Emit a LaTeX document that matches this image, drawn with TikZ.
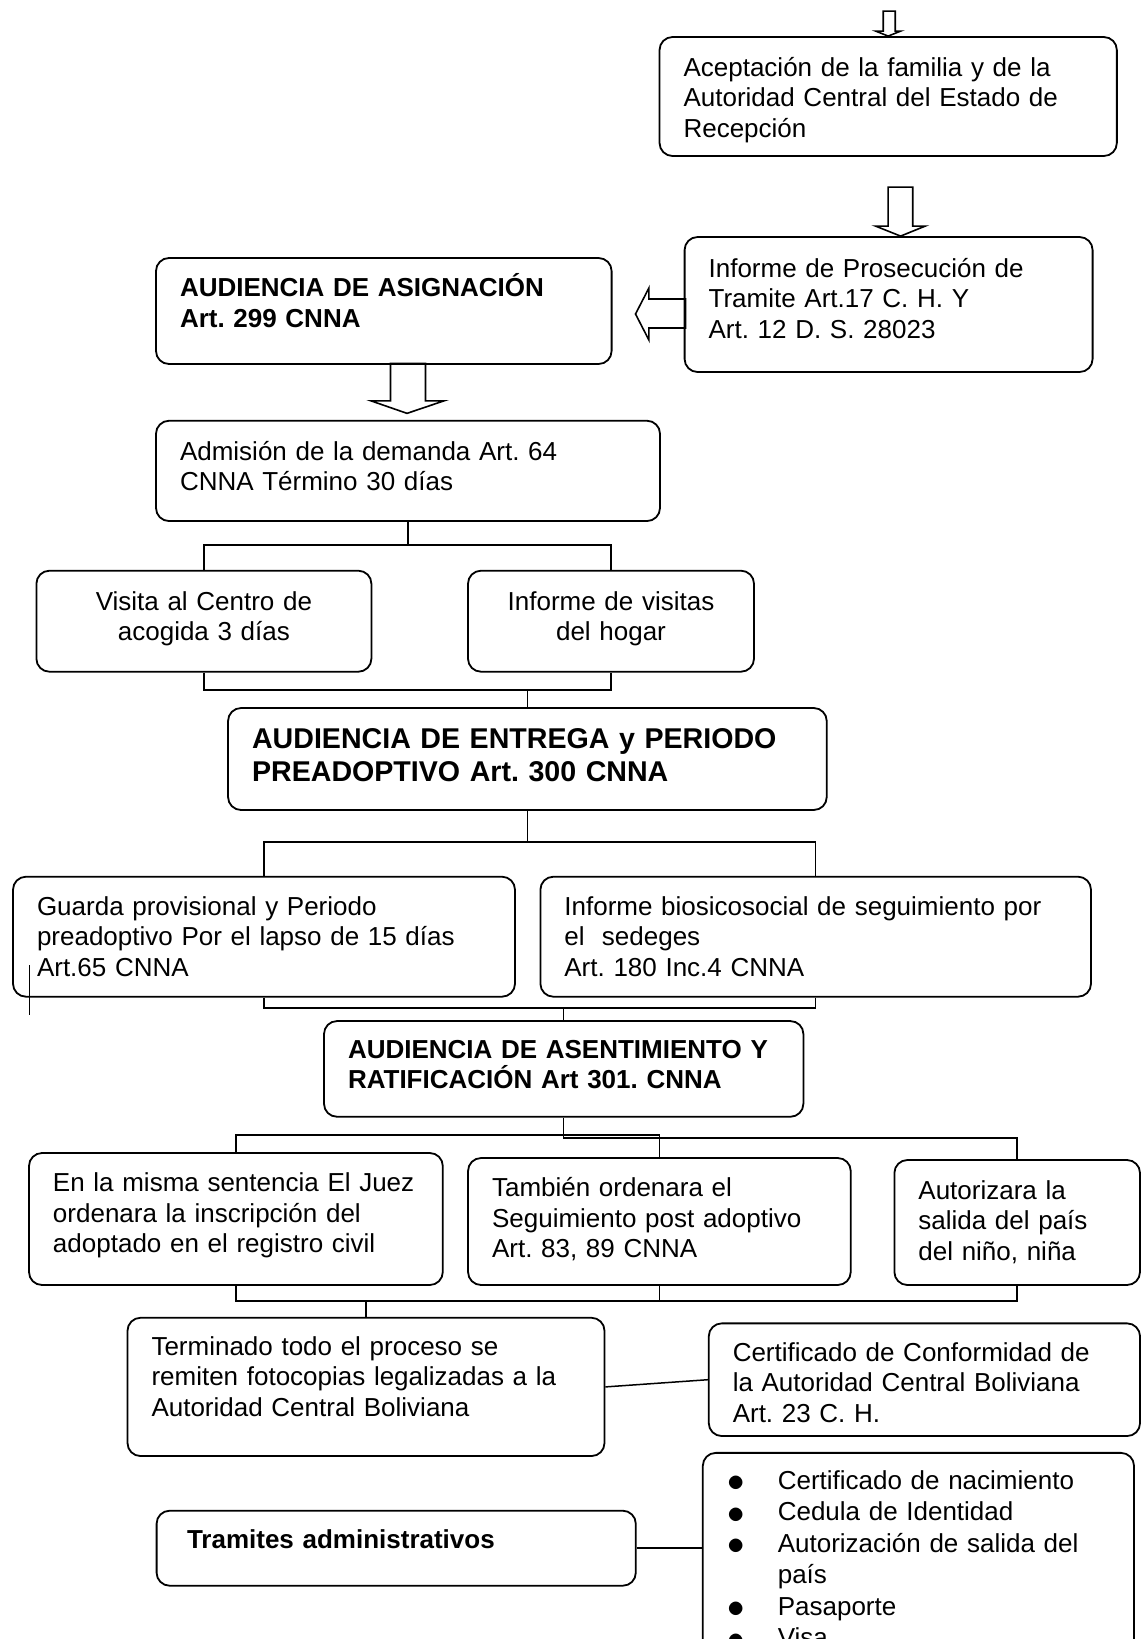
\documentclass[tikz,border=0pt]{standalone}
\usepackage{fontspec}
\setmainfont{Liberation Sans}
\usepackage{tikz}
\frenchspacing

\begin{document}
\begin{tikzpicture}[x=0.5pt,y=-0.5pt,line width=0.75pt,
    box/.style={draw,line width=0.9pt,rounded corners=6.5pt,align=left,inner xsep=12pt,inner ysep=0pt,font=\fontsize{13}{15.3}\selectfont},
    boldbox/.style={box,font=\fontsize{13}{15.3}\selectfont\bfseries},
    barrow/.style={draw,line width=0.8pt}]
        \useasboundingbox (0,0) rectangle (1142,1639);
        \clip (0,0) rectangle (1142,1639);
        \node[box] (acept) at (888.2,96.5)[text width=204.65pt,text height=19.5pt,text depth=40pt] {Aceptación de la familia y de la\\Autoridad Central del Estado de\\Recepción};
        \node[box] (prosec) at (888.6,304.5)[text width=180pt,text height=20pt,text depth=47.5pt] {Informe de Prosecución de\\Tramite Art.17 C. H. Y\\Art. 12 D. S. 28023};
        \node[boldbox] (asign) at (383.8,311)[text width=203.8pt,text height=19.35pt,text depth=33.65pt] {AUDIENCIA DE ASIGNACIÓN\\Art. 299 CNNA};
        \node[box] (admis) at (408,470.9)[text width=228pt,text height=19.65pt,text depth=30.5pt] {Admisión de la demanda Art. 64\\CNNA Término 30 días};
        \node[box,align=center] (visita) at (203.9,621.2)[text width=143.5pt,text height=19.65pt,text depth=30.85pt] {Visita al Centro de\\acogida 3 días};
        \node[box,align=center] (hogar) at (611,621.2)[text width=119pt,text height=19.65pt,text depth=30.85pt] {Informe de visitas\\del hogar};
        \node[boldbox,font=\fontsize{14.3}{16.85}\selectfont\bfseries] (entrega) at (527.4,759)[text width=275.35pt,text height=20pt,text depth=31pt] {AUDIENCIA DE ENTREGA y PERIODO\\PREADOPTIVO Art. 300 CNNA};
        \node[box] (guarda) at (264,936.7)[text width=227pt,text height=19.15pt,text depth=40.85pt] {Guarda provisional y Periodo\\preadoptivo Por el lapso de 15 días\\Art.65 CNNA};
        \node[box] (biosic) at (815.7,936.7)[text width=251.3pt,text height=19.15pt,text depth=40.85pt] {Informe biosicosocial de seguimiento por\\el\ \ sedeges\\Art. 180 Inc.4 CNNA};
        \node[boldbox] (asent) at (563.7,1068.9)[text width=215.7pt,text height=18.5pt,text depth=29.35pt] {AUDIENCIA DE ASENTIMIENTO Y\\RATIFICACIÓN Art 301. CNNA};
        \node[box] (inscrip) at (235.9,1219)[text width=182.9pt,text height=19.35pt,text depth=46.65pt] {En la misma sentencia El Juez\\ordenara la inscripción del\\adoptado en el registro civil};
        \node[box] (seguim) at (659.4,1221.5)[text width=167.35pt,text height=19.35pt,text depth=44.15pt] {También ordenara el\\Seguimiento post adoptivo\\Art. 83, 89 CNNA};
        \node[box] (salida) at (1017.2,1222.5)[text width=98.8pt,text height=19.5pt,text depth=43pt] {Autorizara la\\salida del país\\del niño, niña};
        \node[box] (termin) at (366,1386.9)[text width=214.5pt,text height=18.65pt,text depth=50.5pt] {Terminado todo el proceso se\\remiten fotocopias legalizadas a la\\Autoridad Central Boliviana};
        \node[box] (certif) at (924.4,1379.7)[text width=191.65pt,text height=18.85pt,text depth=37.5pt] {Certificado de Conformidad de\\la Autoridad Central Boliviana\\Art. 23 C. H.};
        \node[boldbox,inner xsep=15.2pt] (tramit) at (396.2,1548.2)[text width=209.2pt,text height=18.65pt,text depth=18.85pt] {Tramites administrativos};
        \node[box,inner xsep=12.3pt,font=\fontsize{13}{15.75}\selectfont] (docs) at (918.4,1561)[text width=191pt,text height=18.15pt,text depth=90pt] {\begin{tabular}[t]{@{}p{25.2pt}@{}l@{}}
            \raisebox{-1.2pt}{\scalebox{1.45}{$\bullet$}} & Certificado de nacimiento\\
            \raisebox{-1.2pt}{\scalebox{1.45}{$\bullet$}} & Cedula de Identidad\\
            \raisebox{-1.2pt}{\scalebox{1.45}{$\bullet$}} & Autorización de salida del\\
                      & país\\
            \raisebox{-1.2pt}{\scalebox{1.45}{$\bullet$}} & Pasaporte\\
            \raisebox{-1.2pt}{\scalebox{1.45}{$\bullet$}} & Visa
        \end{tabular}};
        \draw[barrow] (acept.north) -- ++(-12.5,-5) -- ++(7.5,0) -- ++(0,-20) -- ++(12,0) -- ++(0,20) -- ++(5.5,0) -- cycle;
        \draw[barrow] (prosec.north) ++(12,0) -- ++(-25,-10) -- ++(12.5,0) -- ++(0,-39) -- ++(24.6,0) -- ++(0,39) -- ++(12.5,0) -- cycle;
        \draw[barrow] (asign.east) ++(23,3) -- ++(13.4,-26) -- ++(0,11) -- ++(36.7,0) -- ++(0,29) -- ++(-36.7,0) -- ++(0,12) -- cycle;
        \draw[barrow] (admis.north) ++(-1,-6.5) -- ++(-36,-12.5) -- ++(19.5,0) -- ++(0,-37.5) -- ++(35,0) -- ++(0,37.5) -- ++(18.5,0) -- cycle;
        \coordinate (j1) at (408,545);
        \coordinate (j2) at (527.4,690);
        \coordinate (j3) at (527.4,842);
        \coordinate (j4) at (563.7,1008);
        \coordinate (j5) at (563.7,1135);
        \coordinate (j6) at (563.7,1138);
        \coordinate (j7) at (366,1301);
        \draw (admis.south) -- (j1);
        \draw (visita.north) |- (j1) -| (hogar.north);
        \draw (visita.south) |- (j2);
        \draw (hogar.south) |- (j2) -- (entrega.north);
        \draw (entrega.south) -- (j3);
        \draw (guarda.north) |- (j3) -| (biosic.north);
        \draw (guarda.south) |- (j4);
        \draw (biosic.south) |- (j4) -- (asent.north);
        \draw (inscrip.north) |- (j5) -| (seguim.north);
        \draw (asent.south) -- (j6) -| (salida.north);
        \draw (inscrip.south) |- (j7);
        \draw (seguim.south) -- (seguim.south |- j7);
        \draw (salida.south) |- (j7) -- (termin.north);
        \draw (termin.east) -- (certif.west);
        \draw (tramit.east) -- (tramit.east -| docs.west);
        \draw[line width=0.5pt] (29,965) -- (29,1015);
\end{tikzpicture}
\end{document}
